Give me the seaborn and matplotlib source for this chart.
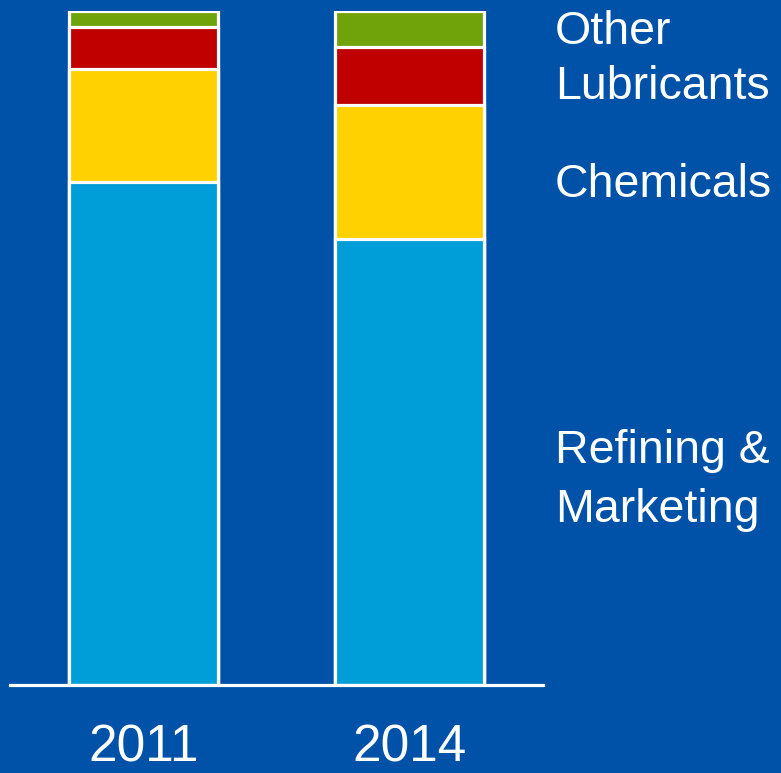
import matplotlib
matplotlib.use("Agg")
import matplotlib.pyplot as plt
import seaborn as sns
import numpy as np

# Segment shares (% of total) for each year
years = ["2011", "2014"]
segments = ["Refining & Marketing", "Chemicals", "Lubricants", "Other"]
refining_marketing = [74.6, 66.2]
chemicals = [16.8, 19.9]
lubricants = [6.2, 8.6]
other = [2.4, 5.3]

segment_colors = ["#009ED9", "#FFD100", "#C00000", "#70A30A"]
background = "#0051A8"

sns.set_theme(style="white")
plt.rcParams["font.family"] = ["Liberation Sans", "DejaVu Sans"]

W, H = 781, 773
fig = plt.figure(figsize=(W / 100, H / 100), dpi=100, facecolor=background)
ax = fig.add_axes([10 / W, 1 - 685 / H, 533 / W, 674 / H])
ax.set_facecolor(background)

values = np.array([refining_marketing, chemicals, lubricants, other])
cumulative = np.cumsum(values, axis=0)

# Draw the stacks from the top layer down so each layer sits over the next
for i in range(len(segments) - 1, -1, -1):
    sns.barplot(x=years, y=cumulative[i], color=segment_colors[i],
                width=0.56, edgecolor="white", linewidth=2.3,
                saturation=1, ax=ax, zorder=2)

ax.set_xlim(-0.5, 1.5)
ax.set_ylim(0, 100)
ax.set_yticks([])
ax.set_xlabel("")
ax.set_ylabel("")
for side in ["left", "right", "top"]:
    ax.spines[side].set_visible(False)
ax.spines["bottom"].set_color("white")
ax.spines["bottom"].set_linewidth(2.3)
ax.spines["bottom"].set_zorder(3)
ax.tick_params(axis="x", length=0, pad=28, labelsize=37, labelcolor="white")

# Segment names to the right of the stacks
label_lines = [("Other", 44), ("Lubricants", 99), ("Chemicals", 197),
               ("Refining &", 463), ("Marketing", 522)]
for text, baseline in label_lines:
    fig.text(555 / W, 1 - baseline / H, text, color="white", fontsize=33.5,
             ha="left", va="baseline")

fig.savefig("out.png", dpi=100, facecolor=background)
